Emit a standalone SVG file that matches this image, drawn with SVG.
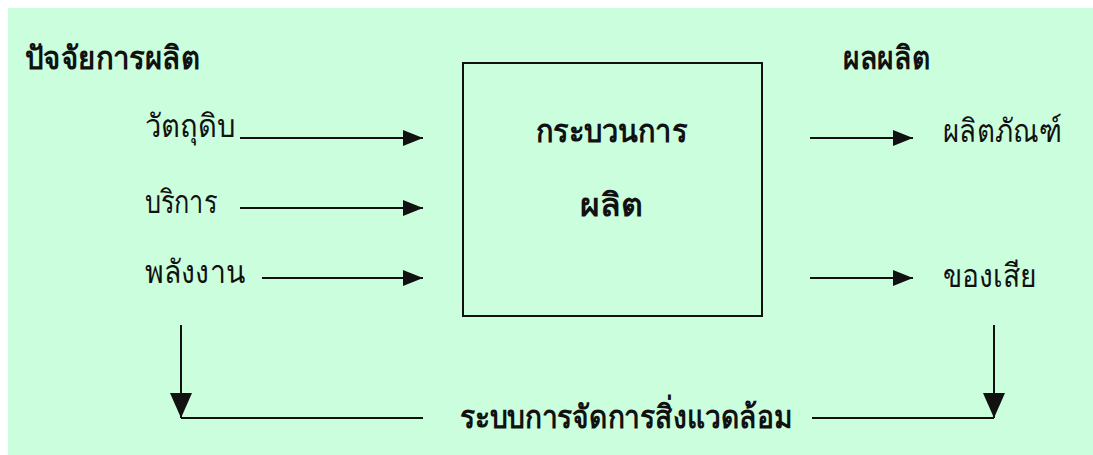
<svg xmlns="http://www.w3.org/2000/svg" width="1093" height="455" viewBox="0 0 1093 455">
<defs>
<style>
.t{font-family:"Noto Sans","DejaVu Sans",sans-serif;font-size:32px;fill:#111;}
.b{font-weight:bold;}
.ln{stroke:#111;stroke-width:2;fill:none;}
</style>
<marker id="ah" viewBox="0 0 20 16" refX="20" refY="8" markerWidth="20" markerHeight="16" markerUnits="userSpaceOnUse" orient="auto">
<path d="M0,0 L20,8 L0,16 Z" fill="#111"/>
</marker>
</defs>
<rect x="0" y="0" width="1093" height="455" fill="#fff"/>
<rect x="8" y="8" width="1085" height="447" fill="#cbfedd"/>
<g id="inputs-title"><text class="t b" x="25" y="69" textLength="175" lengthAdjust="spacingAndGlyphs">ปัจจัยการผลิต</text></g>
<g id="outputs-title"><text class="t b" x="843" y="69" textLength="87" lengthAdjust="spacingAndGlyphs">ผลผลิต</text></g>
<g id="raw"><text class="t" x="145" y="137" textLength="90" lengthAdjust="spacingAndGlyphs">วัตถุดิบ</text></g>
<g id="service"><text class="t" x="145" y="213" textLength="72" lengthAdjust="spacingAndGlyphs">บริการ</text></g>
<g id="energy"><text class="t" x="145" y="283" textLength="100" lengthAdjust="spacingAndGlyphs">พลังงาน</text></g>
<g id="process">
<rect x="463" y="63" width="299" height="253" fill="none" stroke="#111" stroke-width="2"/>
<text class="t b" x="536" y="142" textLength="151" lengthAdjust="spacingAndGlyphs">กระบวนการ</text>
<text class="t b" x="580" y="216" textLength="63" lengthAdjust="spacingAndGlyphs">ผลิต</text>
</g>
<g id="product"><text class="t" x="943" y="142" textLength="119" lengthAdjust="spacingAndGlyphs">ผลิตภัณฑ์</text></g>
<g id="waste"><text class="t" x="943" y="287" textLength="94" lengthAdjust="spacingAndGlyphs">ของเสีย</text></g>
<g id="env"><text class="t b" x="460" y="428" textLength="332" lengthAdjust="spacingAndGlyphs">ระบบการจัดการสิ่งแวดล้อม</text></g>
<g id="connectors">
<line class="ln" x1="240" y1="138" x2="423" y2="138" marker-end="url(#ah)"/>
<line class="ln" x1="240" y1="208" x2="423" y2="208" marker-end="url(#ah)"/>
<line class="ln" x1="262" y1="278" x2="423" y2="278" marker-end="url(#ah)"/>
<line class="ln" x1="810" y1="138" x2="913" y2="138" marker-end="url(#ah)"/>
<line class="ln" x1="810" y1="278" x2="913" y2="278" marker-end="url(#ah)"/>
<line class="ln" x1="181" y1="325" x2="181" y2="418"/>
<path d="M170,393 L192,393 L181,418 Z" fill="#111"/>
<line class="ln" x1="181" y1="418" x2="423" y2="418"/>
<line class="ln" x1="994" y1="325" x2="994" y2="418"/>
<path d="M983,393 L1005,393 L994,418 Z" fill="#111"/>
<line class="ln" x1="812" y1="418" x2="994" y2="418"/>
</g>
</svg>
